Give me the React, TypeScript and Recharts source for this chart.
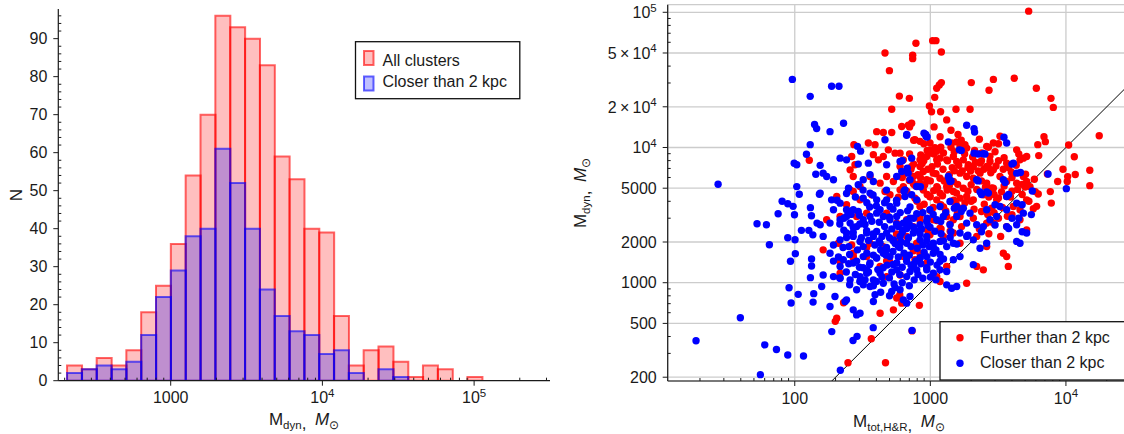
import React from "react";
import { Bar, CartesianGrid, ComposedChart, ReferenceLine, Scatter, ScatterChart, XAxis, YAxis } from "recharts";

const FONT = "'Liberation Sans', Arial, sans-serif";
const INK = "#1a1a1a";

// left panel: log-spaced bins (geometric centres), counts per bin
const binCenters = [232, 290.4, 363.8, 455.7, 570.6, 714.8, 895.1, 1121, 1404, 1759, 2203, 2758, 3455, 4327, 5419, 6787, 8500, 10650, 13330, 16700, 20920, 26200, 32810, 41100, 51460, 64460, 80730, 101100];
const allClusters = [4, 3, 6, 4, 8, 18, 25, 36, 54, 70, 96, 93, 90, 83, 59, 53, 40, 39, 17, 4, 8, 9, 5, 1, 4, 3, 0, 1];
const closerClusters = [2, 3, 4, 3, 5, 12, 22, 29, 38, 40, 61, 52, 40, 24, 17, 13, 12, 7, 8, 2, 0, 3, 1, 0, 0, 0, 0, 0];

const histXDomain = [181.6, 316400];
const histYDomain = [0, 97.8];
const histXMajor = [1000, 10000, 100000];
const histXMinor = [200, 300, 400, 500, 600, 700, 800, 900, 2000, 3000, 4000, 5000, 6000, 7000, 8000, 9000, 20000, 30000, 40000, 50000, 60000, 70000, 80000, 90000, 200000, 300000];
const histYMajor = [0, 10, 20, 30, 40, 50, 60, 70, 80, 90];
const histYMinor = [2, 4, 6, 8, 12, 14, 16, 18, 22, 24, 26, 28, 32, 34, 36, 38, 42, 44, 46, 48, 52, 54, 56, 58, 62, 64, 66, 68, 72, 74, 76, 78, 82, 84, 86, 88, 92, 94, 96];

// right panel: [M_tot,H&R, M_dyn] read off the plot
const mtotDomain = [11.56, 31770];
const mdynDomain = [187.5, 113800];
const mtotMajor = [100, 1000, 10000];
const mtotMinor = [20, 30, 40, 50, 60, 70, 80, 90, 200, 300, 400, 500, 600, 700, 800, 900, 2000, 3000, 4000, 5000, 6000, 7000, 8000, 9000, 20000, 30000];
const mdynMajor = [200, 500, 1000, 2000, 5000, 10000, 20000, 50000, 100000];
const mdynMinor = [300, 400, 600, 700, 800, 900, 3000, 4000, 6000, 7000, 8000, 9000, 30000, 40000, 60000, 70000, 80000, 90000];
const oneToOne = [{ x: 100, y: 100 }, { x: 100000, y: 100000 }];

const furtherPts = [
  [463, 50000], [499, 37000], [519, 19200], [128, 8040],
  [5310, 102000], [783, 59000], [1040, 61700], [1100, 61700], [1206, 50900], [741, 48100], [741, 45400], [591, 24000], [700, 23100], [1077, 23500],
  [1114, 27400], [1165, 29000], [1206, 30200], [2005, 30200], [2917, 31900], [4160, 32500], [2710, 26500], [6050, 27400], [7760, 23100], [8070, 19800],
  [984, 20300], [1546, 19200], [1963, 19200], [17600, 12200], [6890, 12000], [7050, 11050], [6200, 10500], [10470, 10440], [11530, 8550], [6300, 8710],
  [15000, 6780], [15000, 5220], [11720, 6310], [10300, 6090], [10230, 5600], [9510, 6900], [7300, 6370], [8690, 5600], [7670, 4720], [6250, 4530],
  [5940, 4720], [5430, 5140], [5850, 5820], [7800, 3880], [6080, 3670], [5750, 3520], [733, 440], [199, 518], [247, 256], [367, 385], [467, 256],
  [1020, 18400], [1190, 18400], [1320, 16000], [728, 15100], [689, 14600], [615, 14300],
  [402, 13100], [450, 12900], [519, 12900], [770, 11400], [839, 11100], [994, 10800], [1080, 9950], [1114, 9400], [1437, 10800], [1564, 11000],
  [1655, 10200], [1853, 9900], [273, 10500], [349, 10800], [391, 10500], [490, 9610], [549, 9080], [2915, 10800], [3264, 12100], [2603, 10200],
  [4332, 9610], [4851, 8340],
  [380, 8850], [414, 8100], [450, 8580], [598, 9080], [632, 8100], [839, 8100], [940, 8580], [994, 9080], [1114, 8100], [1178, 8340], [1320, 8100],
  [1478, 8580], [1564, 7880], [1752, 8100], [1906, 7450], [2075, 7235], [2325, 7660], [2603, 7235], [2754, 7880], [2915, 6835], [3655, 7660],
  [4584, 8100], [5133, 8580], [263, 8580], [278, 7450], [256, 6835], [598, 7235], [728, 7235], [839, 7235], [888, 6650],
  [359, 6100], [426, 5450], [476, 6100], [534, 5600], [632, 6280], [598, 4860], [749, 6100], [839, 5450], [940, 5770], [1052, 6460], [1178, 5930],
  [1320, 5150], [1478, 5600], [1655, 6460], [1853, 6100], [2075, 5930], [2325, 6460], [2603, 5450], [2915, 5000], [3264, 6100], [3655, 5600],
  [4332, 5450], [4851, 6100], [5133, 5600], [270, 6100], [303, 5150], [256, 4860],
  [270, 4730], [303, 4100], [369, 4470], [463, 4730], [504, 4470], [581, 4290], [669, 4600], [770, 4220], [839, 3660], [994, 4340], [1114, 4100],
  [1178, 4600], [1478, 4730], [1655, 4220], [1853, 4340], [2075, 4100], [2460, 4470], [2754, 4730], [3085, 4100], [3655, 4340], [4094, 3660],
  [4584, 3460], [5133, 4100], [204, 4340], [241, 3770],
  [172, 2920], [216, 3090], [286, 3090], [339, 3270], [476, 3270], [565, 2760], [669, 2920], [749, 2600], [839, 3090], [1052, 2920], [1178, 2530],
  [1320, 3090], [1478, 2920], [1655, 3090], [2075, 3000], [2603, 2760], [2915, 2760], [3655, 2600], [4584, 2920], [5133, 2460],
  [162, 1750], [210, 1960], [263, 1900], [359, 1960], [450, 1850], [565, 2020], [669, 2200], [793, 1960], [839, 1650], [994, 2260], [1247, 2200],
  [1478, 2330], [1655, 1960], [2197, 2200], [2603, 1850], [3454, 1650], [3655, 1560], [270, 1560], [749, 1750],
  [476, 1450], [632, 1560], [770, 1480], [940, 1400], [1320, 1320], [2197, 1320], [2460, 1245], [426, 1320], [339, 1560], [216, 1440], [270, 1650],
  [476, 1110], [598, 1140], [1114, 1110], [1178, 1020], [1853, 992], [216, 1176],
  [565, 770], [615, 706], [534, 630], [426, 595], [204, 546], [830, 680], [3760, 1320], [229, 710],
  [632, 5130], [751, 5430], [888, 4840], [995, 4320], [1117, 5130], [1330, 4840], [1490, 4070], [794, 4070], [995, 3430], [1250, 3630], [1580, 3240],
  [1117, 2880], [1400, 2720], [840, 2880], [563, 2290], [751, 1720], [499, 1445], [595, 812], [632, 724], [270, 1530], [339, 1820],
  [703, 14200], [753, 11300], [948, 9490], [1065, 8960], [1194, 10050], [1128, 7540], [895, 7980], [753, 7540], [1340, 7980], [1503, 6720],
  [1893, 7120], [2250, 6720], [2680, 7120], [3180, 7980], [3778, 7120], [4490, 8960], [5040, 6340], [845, 5990], [1000, 5660], [1128, 5030],
  [1265, 5660], [1590, 5340], [1893, 4750], [2383, 5660], [2830, 5030], [3180, 4230], [4000, 4750], [4757, 4490], [5330, 4000], [670, 4750],
  [797, 4000], [948, 4490], [1194, 3775], [1420, 4000], [1690, 3560], [2000, 4000], [2383, 3360], [2830, 3560], [3180, 3000], [4000, 3180],
  [2120, 9490], [2680, 10050], [1690, 11300], [1420, 13400], [1065, 14200], [3180, 10670], [895, 10670], [1790, 8960], [2383, 7980], [1420, 10050],
  [703, 8960], [620, 5990], [753, 5340], [4000, 5990], [4757, 5340],
  [660, 6600], [720, 6900], [810, 6300], [870, 7600], [960, 6900], [1030, 7200], [1100, 6400], [1240, 6900], [1380, 6300], [1450, 7100],
  [1620, 7400], [1720, 6700], [1980, 6700], [2150, 7800], [2480, 6900], [2790, 6500], [3050, 7300], [3450, 6900], [3950, 6600], [4300, 7400],
  [700, 5700], [780, 5200], [910, 5300], [1060, 4800], [1230, 4400], [1380, 5200], [1560, 4600], [1750, 5000], [2000, 5300], [2200, 4900],
  [2550, 5100], [2700, 4300], [2950, 4500], [3350, 4700], [3500, 5200], [3900, 4300], [4400, 4900], [5000, 5100],
  [900, 3800], [1050, 3600], [1300, 3400], [1550, 3800], [1800, 3900], [2100, 3500], [2500, 3800], [2650, 3200], [2950, 3300], [3400, 3600], [3700, 3100],
  [1000, 9600], [1250, 9100], [1500, 9300], [1800, 10500], [2050, 8500], [2400, 9100], [2750, 8600], [3000, 9300], [3500, 8400], [850, 8800],
  [1180, 12000], [1600, 12500], [2300, 11500],
  [1200, 2500], [1400, 2400], [1700, 2600], [2300, 2500], [2700, 2300], [3300, 2200], [950, 2450],
];

const closerPts = [
  [27.2, 5350], [96, 31900], [187, 28400], [212, 28400], [130, 23900], [140, 14800], [145, 13800], [130, 10500], [122, 8910], [99, 7640],
  [103.5, 7460], [154, 7380], [143, 6340], [103.5, 5140], [108, 4510], [152, 4510],
  [7380, 6370], [10070, 4960], [5650, 4770], [733, 444], [5560, 3190],
  [80.7, 4000], [88.8, 3840], [97.2, 3670], [75.4, 3240], [99.5, 3180], [130.5, 3590], [132.8, 3130], [52.7, 2730], [61.8, 2680], [65, 1910],
  [88.8, 2150], [100.5, 2080], [112, 2440], [127, 2440], [136, 2260], [101, 1640], [93, 1440], [133, 1500], [133, 1330], [130.5, 1090], [146, 2760],
  [90.8, 918], [106, 820], [94, 708], [138, 830], [136.5, 719], [39.7, 551], [18.7, 372], [60.1, 347], [73.3, 321], [88.8, 292], [116, 287],
  [55.8, 209], [187.5, 435], [217, 225], [269, 374], [288, 401], [379, 465],
  [229, 15100], [1853, 14600], [2100, 13800],
  [182, 13100], [463, 11400], [669, 12300], [898, 12760], [930, 12060], [1358, 11000], [1636, 9610], [290, 10200], [306, 9400], [2100, 9080],
  [2460, 8980], [3490, 11900], [3655, 10800],
  [216, 8340], [241, 8100], [294, 7540], [349, 7660], [476, 7450], [598, 7880], [728, 8340], [4094, 7660], [4332, 6460],
  [162, 6460], [172, 6100], [193, 5770], [359, 6280], [320, 5770], [294, 5300], [380, 5600], [565, 6100], [615, 6650], [676, 7030], [686, 6460],
  [708, 5770], [1358, 6100], [1396, 5600], [2197, 5770], [3454, 5770], [249, 5000], [650, 4860],
  [154, 4600], [187, 4100], [193, 3460], [216, 3875], [241, 3460], [270, 3460], [320, 4220], [359, 4600], [402, 4100], [426, 3460], [476, 4100],
  [504, 3660], [565, 3875], [650, 4340], [728, 4470], [793, 4100], [994, 3460], [1178, 3660], [1396, 3990], [1564, 3660], [1752, 3560],
  [1961, 3270], [2603, 3460], [3264, 3660], [3655, 3460], [4332, 3875], [4851, 3270],
  [154, 2680], [182, 2760], [216, 2920], [256, 2760], [286, 2600], [320, 2920], [359, 3090], [402, 3270], [450, 3090], [504, 2920], [565, 3090],
  [632, 2760], [708, 3000], [839, 2680], [940, 2840], [1114, 2920], [1247, 3090], [1396, 2680], [1564, 3090], [1853, 2760], [2197, 2680],
  [2460, 2600], [2754, 2920], [3085, 3090], [3655, 2600], [4332, 2680], [5133, 2330], [241, 3090], [294, 3370],
  [162, 2200], [193, 1900], [216, 2075], [241, 2330], [270, 2200], [303, 2020], [339, 2330], [380, 2200], [426, 1960], [476, 2330], [534, 2075],
  [598, 2200], [669, 1960], [749, 2330], [839, 2075], [940, 2200], [1052, 1960], [1178, 2020], [1320, 1850], [1478, 1960], [1655, 2330],
  [1853, 2200], [2075, 2075], [2325, 1800], [2603, 1960], [4332, 2020], [4584, 1960], [320, 1850], [402, 2390], [476, 1750], [581, 1850], [632, 2460],
  [182, 1650], [228, 1480], [216, 1320], [270, 1400], [320, 1560], [359, 1400], [402, 1520], [450, 1650], [504, 1560], [565, 1400], [669, 1440],
  [749, 1320], [839, 1520], [940, 1560], [1052, 1650], [1178, 1440], [1478, 1480], [1655, 1560], [2075, 1360], [339, 1245], [565, 1245],
  [162, 1140], [158, 937], [193, 1110], [216, 1080], [256, 1050], [303, 1110], [339, 1176], [380, 1050], [426, 1176], [450, 992], [669, 1110],
  [708, 1210], [793, 1245], [940, 1245], [1052, 1176], [1178, 1245], [1320, 1210], [1320, 964], [1437, 911], [1564, 937], [320, 964], [286, 886], [359, 937],
  [198, 791], [241, 747], [235, 727], [270, 630], [286, 578], [303, 595], [391, 814], [380, 727], [519, 861], [598, 886], [669, 706], [708, 791],
  [632, 747], [182, 667], [793, 5150], [2325, 4700], [2603, 4700], [3655, 4340],
  [205, 4070], [241, 4570], [319, 4840], [378, 4450], [475, 4840], [357, 3630], [420, 3430], [499, 3050], [563, 2720], [669, 2880], [751, 2570],
  [840, 2290], [940, 2040], [1053, 1820], [1250, 2040], [1400, 2160], [1568, 1930], [302, 2720], [339, 2420], [378, 2290], [420, 2040], [475, 1820],
  [531, 2040], [595, 1820], [669, 1530], [751, 1365], [840, 1530], [940, 1290], [227, 1820], [254, 1620], [286, 1445], [319, 1290], [357, 1365],
  [400, 1530], [449, 1290], [531, 1365], [595, 1148], [215, 1085], [254, 965], [302, 1020], [400, 1020], [499, 1085], [270, 2570], [241, 2160],
  [215, 2720], [563, 4070], [708, 3630], [794, 3240], [193, 1445], [995, 2570], [1180, 1620],
  [2120, 13000], [1690, 9490], [2250, 8960], [2530, 8960], [4000, 7540], [4620, 6530], [2250, 5660], [3560, 5500], [2383, 4490], [2680, 4600],
  [3778, 4490], [4757, 3775], [3000, 3775], [4000, 3000], [1380, 5820], [1420, 5660], [845, 5120], [640, 4750], [620, 7980], [670, 12500],
  [925, 12500], [948, 11950], [4490, 3000], [4757, 2380], [1690, 3360], [1503, 3560], [1194, 2830], [948, 3000], [753, 3000], [670, 2520],
  [1420, 2380], [1893, 2250], [2383, 2380], [3000, 2670], [3778, 2520],
  [230, 3000], [260, 3200], [300, 3150], [330, 2700], [370, 2850], [420, 2800], [460, 2600], [520, 2500], [580, 2600], [620, 2350], [700, 2700],
  [770, 2450], [860, 2500], [960, 2650], [1080, 2400], [1200, 2300],
  [230, 2450], [270, 2350], [310, 2150], [350, 2050], [390, 1900], [440, 2200], [500, 2150], [550, 1950], [610, 2000], [690, 2150], [720, 1850],
  [800, 1800], [880, 1900], [980, 1850], [1100, 1750],
  [250, 1850], [290, 1750], [340, 1650], [380, 1600], [430, 1750], [470, 1600], [530, 1700], [580, 1550], [640, 1650], [700, 1600], [780, 1450],
  [850, 1380], [900, 1680], [1000, 1420], [1120, 1350], [1250, 1500],
  [210, 1550], [250, 1380], [300, 1300], [350, 1200], [410, 1250], [480, 1350], [520, 1200], [620, 1300], [720, 1350], [810, 1150], [880, 1080],
  [1000, 1100], [1100, 1050],
  [240, 1200], [280, 1150], [330, 1050], [380, 950], [440, 1100], [540, 980], [620, 1000], [700, 950], [760, 1050], [430, 850], [500, 800], [550, 920],
  [280, 4300], [340, 3900], [400, 3700], [460, 3900], [530, 3500], [600, 3300], [680, 3400], [880, 3300], [1050, 3200], [1300, 3300],
];

const histData = binCenters.map((m, i) => ({ m, all: allClusters[i], closer: closerClusters[i] }));
const toPoints = (pts: number[][]) => pts.map(([x, y]) => ({ x, y }));
const furtherData = toPoints(furtherPts);
const closerData = toPoints(closerPts);
const sorted = (a: number[], b: number[]) => [...a, ...b].sort((p, q) => p - q);

function logLabel(v: number) {
  if (v < 10000) return String(v);
  const exp = Math.floor(Math.log10(v) + 1e-9);
  const mant = Math.round(v / 10 ** exp);
  return (
    <>
      {mant > 1 ? `${mant}\u2009×\u200910` : "10"}
      <tspan dy={-6.5} fontSize={11.5}>{exp}</tspan>
    </>
  );
}

const bottomTick = (majors: number[]) => (p: any) => {
  const major = majors.includes(p.payload.value);
  return (
    <g>
      <line x1={p.x} x2={p.x} y1={p.y} y2={major ? p.y + 5 : p.y - 3} stroke={INK} strokeWidth={1} />
      {major && (
        <text x={p.x} y={p.y + 22.5} textAnchor="middle" fontSize={16} fill={INK} fontFamily={FONT}>
          {logLabel(p.payload.value)}
        </text>
      )}
    </g>
  );
};

const leftTick = (majors: number[]) => (p: any) => {
  const major = majors.includes(p.payload.value);
  return (
    <g>
      <line x1={p.x} x2={major ? p.x - 5 : p.x + 3} y1={p.y} y2={p.y} stroke={INK} strokeWidth={1} />
      {major && (
        <text x={p.x - 11} y={p.y} dy="0.36em" textAnchor="end" fontSize={16} fill={INK} fontFamily={FONT}>
          {logLabel(p.payload.value)}
        </text>
      )}
    </g>
  );
};

const dot = (color: string) => (p: any) => <circle cx={p.cx} cy={p.cy} r={3.7} fill={color} />;

function Histogram() {
  return (
    <ComposedChart width={560} height={434} data={histData} margin={{ top: 9, right: 10, bottom: 23.3, left: 0 }} barGap={0} barCategoryGap={0}>
      <XAxis xAxisId="x" dataKey="m" type="number" scale="log" domain={histXDomain} allowDataOverflow ticks={sorted(histXMajor, histXMinor)} interval={0}
        tick={bottomTick(histXMajor)} tickLine={false} tickSize={0} tickMargin={0} height={30} axisLine={{ stroke: INK, strokeWidth: 1.2 }} />
      <XAxis xAxisId="x2" dataKey="m" type="number" scale="log" domain={histXDomain} allowDataOverflow hide height={0} />
      <XAxis xAxisId="xtop" dataKey="m" orientation="top" type="number" scale="log" domain={histXDomain} allowDataOverflow height={0}
        tick={false} tickLine={false} axisLine={{ stroke: "#555", strokeWidth: 1.2 }} />
      <YAxis yAxisId="y" type="number" domain={histYDomain} allowDataOverflow ticks={sorted(histYMajor, histYMinor)} interval={0} width={58.3}
        tick={leftTick(histYMajor)} tickLine={false} tickSize={0} tickMargin={0} axisLine={{ stroke: INK, strokeWidth: 1.2 }} />
      <YAxis yAxisId="yright" orientation="right" type="number" domain={histYDomain} allowDataOverflow width={0}
        tick={false} tickLine={false} axisLine={{ stroke: "#555", strokeWidth: 1.2 }} />
      <Bar xAxisId="x" yAxisId="y" dataKey="all" fill="#ff0000" fillOpacity={0.25} stroke="#ff0000" strokeOpacity={0.6} strokeWidth={2} isAnimationActive={false} />
      <Bar xAxisId="x2" yAxisId="y" dataKey="closer" fill="#0000ff" fillOpacity={0.25} stroke="#0000ff" strokeOpacity={0.6} strokeWidth={2} isAnimationActive={false} />
    </ComposedChart>
  );
}

function MassScatter() {
  return (
    <ScatterChart width={580} height={434} margin={{ top: 4.7, right: 16, bottom: 23, left: 0 }}>
      <XAxis xAxisId="x" dataKey="x" type="number" scale="log" domain={mtotDomain} allowDataOverflow ticks={sorted(mtotMajor, mtotMinor)} interval={0}
        tick={bottomTick(mtotMajor)} tickLine={false} tickSize={0} tickMargin={0} height={30} axisLine={{ stroke: INK, strokeWidth: 1.2 }} />
      <YAxis yAxisId="y" dataKey="y" type="number" scale="log" domain={mdynDomain} allowDataOverflow ticks={sorted(mdynMajor, mdynMinor)} interval={0} width={97.7}
        tick={leftTick(mdynMajor)} tickLine={false} tickSize={0} tickMargin={0} axisLine={{ stroke: INK, strokeWidth: 1.2 }} />
      <XAxis xAxisId="xtop" dataKey="x" orientation="top" type="number" scale="log" domain={mtotDomain} allowDataOverflow height={0}
        tick={false} tickLine={false} axisLine={{ stroke: INK, strokeWidth: 1.2 }} />
      <XAxis xAxisId="xz" dataKey="x" type="number" scale="log" domain={mtotDomain} allowDataOverflow ticks={mtotMajor} hide height={0} />
      <YAxis yAxisId="yz" dataKey="y" type="number" scale="log" domain={mdynDomain} allowDataOverflow ticks={mdynMajor} hide width={0} />
      <CartesianGrid xAxisId="xz" yAxisId="yz" stroke="#cccccc" strokeWidth={1.3} />
      <Scatter xAxisId="x" yAxisId="y" data={furtherData} fill="#ff0000" shape={dot("#ff0000")} isAnimationActive={false} />
      <Scatter xAxisId="x" yAxisId="y" data={closerData} fill="#0000ff" shape={dot("#0000ff")} isAnimationActive={false} />
      <ReferenceLine xAxisId="x" yAxisId="y" segment={oneToOne} stroke="#000" strokeWidth={1} ifOverflow="hidden" />
    </ScatterChart>
  );
}

function MassTitle({ x, y, sub, vertical }: { x: number; y: number; sub: string; vertical?: boolean }) {
  return (
    <text x={x} y={y} textAnchor="middle" fontSize={17} fill={INK} fontFamily={FONT} transform={vertical ? `rotate(-90 ${x} ${y})` : undefined}>
      M<tspan fontSize={11.5} dy={4}>{sub}</tspan>
      <tspan dy={0}>,</tspan>
      <tspan dy={-4}>{"\u2002"}</tspan>
      <tspan fontStyle="italic">M</tspan>
      <tspan fontSize={11.5} dy={4}>⊙</tspan>
    </text>
  );
}

function Overlay() {
  const txt = { fontSize: 16, fill: INK, fontFamily: FONT };
  return (
    <svg width={1124} height={434} style={{ position: "absolute", left: 0, top: 0, pointerEvents: "none" }}>
      <text x={16} y={195} textAnchor="middle" fontSize={17} fill={INK} fontFamily={FONT} transform="rotate(-90 16 195)" dy="0.35em">N</text>
      <MassTitle x={304} y={425} sub="dyn" />
      <MassTitle x={586} y={193} sub="dyn" vertical />
      <MassTitle x={899} y={427} sub="tot,H&R" />

      <rect x={355.5} y={41.7} width={164.3} height={57} fill="#fff" stroke="#111" strokeWidth={1.3} />
      <rect x={364} y={51} width={9.5} height={14} fill="#ff0000" fillOpacity={0.25} stroke="#ff0000" strokeOpacity={0.6} strokeWidth={2} />
      <text x={382.5} y={66} {...txt}>All clusters</text>
      <rect x={364} y={76.5} width={9.5} height={14} fill="#0000ff" fillOpacity={0.25} stroke="#0000ff" strokeOpacity={0.6} strokeWidth={2} />
      <text x={382.5} y={86.5} {...txt}>Closer than 2 kpc</text>

      <rect x={940} y={321.7} width={200} height={58.3} fill="#fff" stroke="#111" strokeWidth={1.3} />
      <circle cx={960} cy={337.7} r={3.7} fill="#ff0000" />
      <text x={980} y={342.7} {...txt}>Further than 2 kpc</text>
      <circle cx={960} cy={363.3} r={3.7} fill="#0000ff" />
      <text x={980} y={367.7} {...txt}>Closer than 2 kpc</text>
    </svg>
  );
}

export default function App() {
  return (
    <div style={{ position: "fixed", left: 0, top: 0, width: 1124, height: 434, overflow: "hidden", background: "#fff", fontFamily: FONT }}>
      <div style={{ position: "absolute", left: 0, top: 0 }}>
        <Histogram />
      </div>
      <div style={{ position: "absolute", left: 570, top: 0 }}>
        <MassScatter />
      </div>
      <Overlay />
    </div>
  );
}
